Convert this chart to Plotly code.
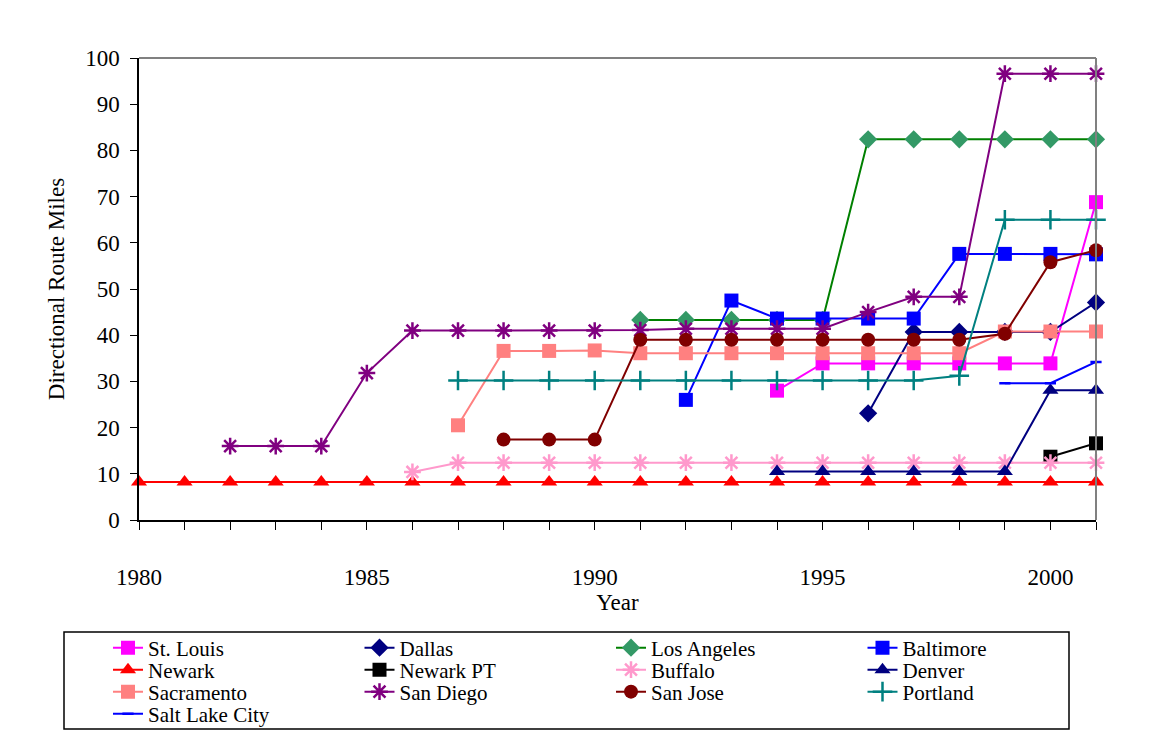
import plotly.graph_objects as go

# ---------------------------------------------------------------
# Datos: millas de ruta direccional por ciudad
# ---------------------------------------------------------------
years = list(range(1980, 2002))

st_louis_years = [1994, 1995, 1996, 1997, 1998, 1999, 2000, 2001]
st_louis = [28.0, 33.9, 33.9, 33.9, 33.9, 33.9, 33.9, 68.8]

dallas_years = [1996, 1997, 1998, 1999, 2000, 2001]
dallas = [23.1, 40.7, 40.7, 40.7, 40.7, 47.1]

los_angeles_years = list(range(1991, 2002))
los_angeles = [43.3, 43.3, 43.3, 43.3, 43.3, 82.4, 82.4, 82.4, 82.4, 82.4, 82.4]

baltimore_years = list(range(1992, 2002))
baltimore = [26.0, 47.5, 43.6, 43.6, 43.6, 43.6, 57.6, 57.6, 57.6, 57.5]

newark_years = years
newark = [8.2] * 22

newark_pt_years = [2000, 2001]
newark_pt = [13.7, 16.6]

buffalo_years = list(range(1986, 2002))
buffalo = [10.4] + [12.4] * 15

denver_years = list(range(1994, 2002))
denver = [10.5, 10.5, 10.5, 10.5, 10.5, 10.5, 28.1, 28.1]

sacramento_years = list(range(1987, 2002))
sacramento = [20.5, 36.6, 36.6, 36.7, 36.1, 36.1, 36.1, 36.1, 36.1, 36.1, 36.1, 36.1,
              40.8, 40.8, 40.8]

san_diego_years = list(range(1982, 2002))
san_diego = [16.0, 16.0, 16.0, 31.8, 41.0, 41.0, 41.0, 41.0, 41.0, 41.1, 41.4, 41.4,
             41.4, 41.4, 45.0, 48.3, 48.3, 96.6, 96.6, 96.6]

san_jose_years = list(range(1988, 2002))
san_jose = [17.4, 17.4, 17.4, 39.0, 39.0, 39.0, 39.0, 39.0, 39.0, 39.0, 39.0,
            40.3, 55.8, 58.4]

portland_years = list(range(1987, 2002))
portland = [30.2] * 11 + [31.2, 65.0, 65.0, 65.0]

salt_lake_years = [1999, 2000, 2001]
salt_lake = [29.6, 29.6, 34.2]

# nombre, x, y, color línea, color marcador, símbolo, tamaño, fila de leyenda
series = [
    ("St. Louis", st_louis_years, st_louis, "#FF00FF", "#FF00FF", "square", 14, 0),
    ("Dallas", dallas_years, dallas, "#000080", "#000080", "diamond", 14, 0),
    ("Los Angeles", los_angeles_years, los_angeles, "#008000", "#339966", "diamond", 14, 0),
    ("Baltimore", baltimore_years, baltimore, "#0000FF", "#0000FF", "square", 14, 0),
    ("Newark", newark_years, newark, "#FF0000", "#FF0000", "triangle-up", 14, 1),
    ("Newark PT", newark_pt_years, newark_pt, "#000000", "#000000", "square", 14, 1),
    ("Buffalo", buffalo_years, buffalo, "#FF99CC", "#FF99CC", "asterisk-open", 14, 1),
    ("Denver", denver_years, denver, "#000080", "#000080", "triangle-up", 14, 1),
    ("Sacramento", sacramento_years, sacramento, "#FF8080", "#FF8080", "square", 14, 2),
    ("San Diego", san_diego_years, san_diego, "#800080", "#800080", "asterisk-open", 14, 2),
    ("San Jose", san_jose_years, san_jose, "#800000", "#800000", "circle", 14, 2),
    ("Portland", portland_years, portland, "#008080", "#008080", "cross-thin-open", 14, 2),
    ("Salt Lake City", salt_lake_years, salt_lake, "#0000FF", "#0000FF", "line-ew", 8, 3),
]

FONT = "Liberation Serif"
OFF = 8  # margen del body de la página
W, H = 1151 - OFF, 746 - OFF
L, R, T, B = 139 - OFF, 55, 58 - OFF, 226
PW, PH = W - L - R, H - T - B


# convierte píxeles de la imagen de referencia a coordenadas "paper"
def px_x(p):
    return (p - OFF - L) / PW


def px_y(p):
    return (H - B - (p - OFF)) / PH


fig = go.Figure()

legend_names = ["legend", "legend2", "legend3", "legend4"]
for name, xs, ys, lc, mc, sym, size, row in series:
    open_sym = sym.endswith("open") or sym.startswith("line")
    fig.add_trace(go.Scatter(
        x=xs, y=ys, name=name, mode="lines+markers",
        line=dict(color=lc, width=2),
        marker=dict(symbol=sym, size=size, color=mc,
                    line=dict(color=mc, width=2.5 if open_sym else 0)),
        cliponaxis=False,
        legend=legend_names[row],
    ))

row_centers = [648, 670, 692, 714]
legend_layout = {}
for i, ln in enumerate(legend_names):
    legend_layout[ln] = dict(
        orientation="h", x=px_x(108), xanchor="left",
        y=px_y(row_centers[i]), yanchor="middle",
        entrywidth=206.5, entrywidthmode="pixels",
        font=dict(family=FONT, size=21, color="black"),
        bgcolor="rgba(0,0,0,0)", borderwidth=0, itemclick=False,
    )

tick_text = [str(y) if y % 5 == 0 else "" for y in years]

fig.update_layout(
    width=W, height=H,
    margin=dict(l=L, r=R, t=T, b=B),
    paper_bgcolor="white", plot_bgcolor="white",
    font=dict(family=FONT, size=23, color="black"),
    showlegend=True,
    xaxis=dict(
        range=[1980, 2001], tickvals=years, ticktext=tick_text,
        ticks="outside", ticklen=8, tickcolor="black", tickwidth=1,
        showline=True, linecolor="black", linewidth=1.5,
        showgrid=False, zeroline=False, ticklabelstandoff=28,
        title=dict(text="Year", standoff=3, font=dict(size=23)),
    ),
    yaxis=dict(
        range=[0, 100], dtick=10,
        ticks="outside", ticklen=7, tickcolor="black", tickwidth=1,
        showline=True, linecolor="black", linewidth=1.5,
        showgrid=False, zeroline=False, ticklabelstandoff=6,
        title=dict(text="Directional Route Miles", standoff=14, font=dict(size=23)),
    ),
    **legend_layout,
)

# borde gris del área de trazado (arriba y derecha)
fig.add_shape(type="line", xref="paper", yref="paper", x0=0, x1=1, y0=1, y1=1,
              line=dict(color="#808080", width=2))
fig.add_shape(type="line", xref="paper", yref="paper", x0=1, x1=1, y0=0, y1=1,
              line=dict(color="#808080", width=2))

# caja de la leyenda
fig.add_shape(type="rect", xref="paper", yref="paper",
              x0=px_x(64), x1=px_x(1069), y0=px_y(729), y1=px_y(632),
              line=dict(color="black", width=1.5))

# borde del área del gráfico
fig.add_shape(type="line", xref="paper", yref="paper",
              x0=px_x(5), x1=px_x(1160), y0=px_y(5), y1=px_y(5),
              line=dict(color="black", width=2))
fig.add_shape(type="line", xref="paper", yref="paper",
              x0=px_x(5), x1=px_x(5), y0=px_y(5), y1=px_y(760),
              line=dict(color="black", width=2))

fig.write_html("out.html")
